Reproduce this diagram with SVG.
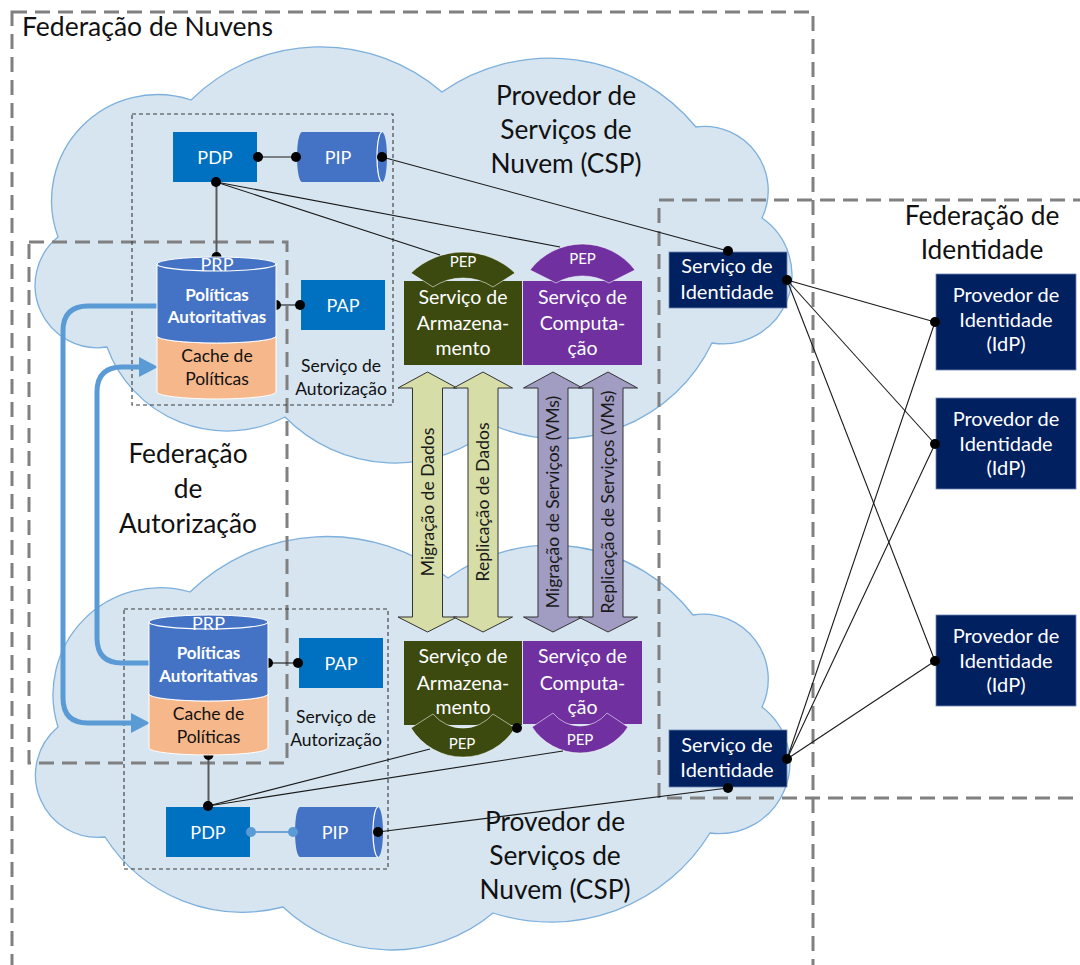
<svg xmlns="http://www.w3.org/2000/svg" width="1080" height="965" viewBox="0 0 1080 965">
  <defs>
    <style>
      text { font-family: Lato, "Open Sans", "DejaVu Sans", sans-serif; }
      .cloud { fill: #D6E5F0; stroke: #7DB0DD; stroke-width: 1.3; }
      .fed { fill: none; stroke: #808080; stroke-width: 3; stroke-dasharray: 15 8; }
      .svc { fill: none; stroke: #3a3a3a; stroke-width: 1.1; stroke-dasharray: 4 3; }
      .big { font-size: 26.3px; fill: #111; text-anchor: middle; }
      .lbl { font-size: 17.5px; fill: #111; text-anchor: middle; }
      .w { fill: #fff; text-anchor: middle; }
      .box { font-size: 19.5px; }
      .idt { font-size: 20px; }
      .acr { font-size: 18px; }
      .bold { font-size: 17px; font-weight: bold; }
      .pep { font-size: 15px; }
      .arr { font-size: 17.5px; fill: #1a1a1a; text-anchor: middle; }
      .blue { fill: #0070C0; }
      .mid { fill: #4472C4; }
      .navy { fill: #002060; stroke: #6F86B5; stroke-width: 0.8; }
      .olive { fill: #3C4A0F; }
      .purp { fill: #7030A0; }
      .rim { fill: none; stroke: #fff; stroke-width: 1.2; }
      .seam { stroke: #fff; stroke-opacity: 0.55; stroke-width: 1; }
      .green { fill: #D6DDA6; stroke: #333; stroke-width: 1; }
      .lilac { fill: #A19CC1; stroke: #333; stroke-width: 1; }
      .ln { fill: none; stroke: #1a1a1a; stroke-width: 1.1; }
      .ln2 { fill: none; stroke: #5a5a5a; stroke-width: 2; }
      .sync { fill: none; stroke: #5B9BD5; stroke-width: 5; }
    </style>
  </defs>

  <!-- cloud providers -->
  <g id="csp-top">
    <path class="cloud" d="M58,237 A106,106 0 0 1 191,100 A185,185 0 0 1 442,92 A189,189 0 0 1 696,127 A64,64 0 0 1 762,218 A69,69 0 0 1 712,343 A169,169 0 0 1 495,426 A154,154 0 0 1 285,417 A127.5,127.5 0 0 1 107,347 A62.4,62.4 0 0 1 58,237 Z"/>
    <text class="big" x="566" y="105">Provedor de</text>
    <text class="big" x="566" y="139">Serviços de</text>
    <text class="big" x="566" y="173">Nuvem (CSP)</text>
  </g>
  <g id="csp-bottom">
    <path class="cloud" d="M190,592 A197,197 0 0 1 448,578 A179,179 0 0 1 693,615 A65,65 0 0 1 762,707 A70.5,70.5 0 0 1 710,833 A187,187 0 0 1 493,913 A158,158 0 0 1 283,907 A163,163 0 0 1 105,837 A62.4,62.4 0 0 1 58,727 A107,107 0 0 1 190,592 Z"/>
    <text class="big" x="555" y="831">Provedor de</text>
    <text class="big" x="555" y="865">Serviços de</text>
    <text class="big" x="555" y="899">Nuvem (CSP)</text>
  </g>

  <!-- federations -->
  <g id="fed-nuvens">
    <rect class="fed" x="12" y="12" width="801" height="1000"/>
    <text x="22" y="36" style="font-size:26.5px;fill:#111">Federação de Nuvens</text>
  </g>
  <g id="fed-identidade">
    <rect class="fed" x="659" y="200" width="460" height="598"/>
    <text class="big" x="982" y="225">Federação de</text>
    <text class="big" x="982" y="259">Identidade</text>
  </g>
  <g id="fed-autorizacao">
    <rect class="fed" x="29" y="242" width="258" height="521"/>
    <text class="big" x="188" y="463">Federação</text>
    <text class="big" x="188" y="498">de</text>
    <text class="big" x="188" y="533">Autorização</text>
  </g>

  <!-- authorization services -->
  <g id="authz-top">
    <rect class="svc" x="132" y="114" width="261" height="291"/>
    <text class="lbl" x="341" y="372">Serviço de</text>
    <text class="lbl" x="341" y="395">Autorização</text>
  </g>
  <g id="authz-bottom">
    <rect class="svc" x="124" y="609" width="264" height="260"/>
    <text class="lbl" x="336" y="723">Serviço de</text>
    <text class="lbl" x="336" y="746">Autorização</text>
  </g>

  <!-- policy points, top provider -->
  <g id="pdp-top">
    <rect class="blue" x="173" y="132" width="84" height="50"/>
    <text class="w acr" x="215" y="163.5">PDP</text>
  </g>
  <g id="pip-top">
    <path class="mid" d="M302,132 L382,132 A5,25 0 0 1 382,182 L302,182 A5,25 0 0 1 302,132 Z"/>
    <path class="rim" d="M382,132 A5,25 0 0 0 382,182"/>
    <text class="w acr" x="338" y="163.5">PIP</text>
  </g>
  <g id="pap-top">
    <rect class="blue" x="301" y="280" width="84" height="50"/>
    <text class="w acr" x="343" y="312">PAP</text>
  </g>

  <!-- policy points, bottom provider -->
  <g id="pdp-bottom">
    <rect class="blue" x="166" y="807" width="84" height="50"/>
    <text class="w acr" x="208" y="838.5">PDP</text>
  </g>
  <g id="pip-bottom">
    <path class="mid" d="M300,807 L378,807 A5,25 0 0 1 378,857 L300,857 A5,25 0 0 1 300,807 Z"/>
    <path class="rim" d="M378,807 A5,25 0 0 0 378,857"/>
    <text class="w acr" x="335" y="838.5">PIP</text>
  </g>
  <g id="pap-bottom">
    <rect class="blue" x="299" y="638" width="84" height="50"/>
    <text class="w acr" x="341" y="670">PAP</text>
  </g>

  <!-- storage and compute services -->
  <g id="storage-top">
    <rect class="olive" x="404" y="281" width="118" height="84"/>
    <path class="olive seam" d="M411,273 A75,75 0 0 1 515,273 L493,287 A54.5,54.5 0 0 0 433,287 Z"/>
    <text class="w pep" x="463" y="267">PEP</text>
    <text class="w box" x="463" y="304">Serviço de</text>
    <text class="w box" x="463" y="330">Armazena-</text>
    <text class="w box" x="463" y="355">mento</text>
  </g>
  <g id="compute-top">
    <rect class="purp" x="523" y="281" width="119" height="84"/>
    <path class="purp seam" d="M530,270 A66,66 0 0 1 635,270 L609,283 A53.6,53.6 0 0 0 556,283 Z"/>
    <text class="w pep" x="582.5" y="264">PEP</text>
    <text class="w box" x="582.5" y="304">Serviço de</text>
    <text class="w box" x="582.5" y="330">Computa-</text>
    <text class="w box" x="582.5" y="355">ção</text>
  </g>
  <g id="storage-bottom">
    <rect class="olive" x="404" y="641" width="118" height="84"/>
    <path class="olive seam" d="M411,728 A61,61 0 0 0 515,728 L493,714 A39,39 0 0 1 433,714 Z"/>
    <text class="w box" x="463" y="663">Serviço de</text>
    <text class="w box" x="463" y="690">Armazena-</text>
    <text class="w box" x="463" y="714">mento</text>
    <text class="w pep" x="462" y="749">PEP</text>
  </g>
  <g id="compute-bottom">
    <rect class="purp" x="523" y="641" width="119" height="83"/>
    <path class="purp seam" d="M532,727 A57.3,57.3 0 0 0 628,727 L607,713 A34.5,34.5 0 0 1 553,713 Z"/>
    <text class="w box" x="582.5" y="663">Serviço de</text>
    <text class="w box" x="582.5" y="690">Computa-</text>
    <text class="w box" x="582.5" y="714">ção</text>
    <text class="w pep" x="580" y="745">PEP</text>
  </g>

  <!-- identity services and providers -->
  <g id="si-top">
    <rect class="navy" x="669" y="252" width="118" height="56"/>
    <text class="w idt" x="727" y="273">Serviço de</text>
    <text class="w idt" x="727" y="299">Identidade</text>
  </g>
  <g id="si-bottom">
    <rect class="navy" x="669" y="730" width="118" height="57"/>
    <text class="w idt" x="727" y="752">Serviço de</text>
    <text class="w idt" x="727" y="777">Identidade</text>
  </g>
  <g id="idp-1">
    <rect class="navy" x="936" y="274" width="140" height="96"/>
    <text class="w idt" x="1006" y="302">Provedor de</text>
    <text class="w idt" x="1006" y="327">Identidade</text>
    <text class="w idt" x="1006" y="351">(IdP)</text>
  </g>
  <g id="idp-2">
    <rect class="navy" x="936" y="398" width="140" height="91"/>
    <text class="w idt" x="1006" y="426">Provedor de</text>
    <text class="w idt" x="1006" y="451">Identidade</text>
    <text class="w idt" x="1006" y="475">(IdP)</text>
  </g>
  <g id="idp-3">
    <rect class="navy" x="936" y="615" width="140" height="91"/>
    <text class="w idt" x="1006" y="643">Provedor de</text>
    <text class="w idt" x="1006" y="668">Identidade</text>
    <text class="w idt" x="1006" y="692">(IdP)</text>
  </g>

  <!-- data and VM transfer between providers -->
  <g id="transfers">
    <polygon class="green" points="427.5,372 457,388 442.5,388 442.5,617 457,617 427.5,632 398,617 412.5,617 412.5,388 398,388"/>
    <polygon class="green" points="483,372 512.5,388 498,388 498,617 512.5,617 483,632 453.5,617 468,617 468,388 453.5,388"/>
    <polygon class="lilac" points="553,372 582.5,388 568,388 568,617 582.5,617 553,632 523.5,617 538,617 538,388 523.5,388"/>
    <polygon class="lilac" points="608,372 637.5,388 623,388 623,617 637.5,617 608,632 578.5,617 593,617 593,388 578.5,388"/>
    <text class="arr" transform="translate(433.5,502) rotate(-90)">Migração de Dados</text>
    <text class="arr" transform="translate(489,502) rotate(-90)">Replicação de Dados</text>
    <text class="arr" transform="translate(559,502) rotate(-90)">Migração de Serviços (VMs)</text>
    <text class="arr" transform="translate(614,502) rotate(-90)">Replicação de Serviços (VMs)</text>
  </g>

  <!-- connectors -->
  <g id="connectors">
    <path class="sync" d="M157,306 H88 Q63,306 63,331 V698 Q63,723 88,723 H133"/>
    <polygon fill="#5B9BD5" points="131,713 150,723 131,733"/>
    <path class="sync" d="M149,663 H122 Q97,663 97,638 V392 Q97,367 122,367 H141"/>
    <polygon fill="#5B9BD5" points="139,357 158,367 139,377"/>

    <line class="ln" x1="258" y1="157" x2="296" y2="157"/>
    <line class="ln" x1="382" y1="157" x2="728" y2="251"/>
    <line class="ln2" x1="216.5" y1="182" x2="216.5" y2="257"/>
    <line class="ln" x1="216" y1="182" x2="440" y2="255"/>
    <line class="ln" x1="216" y1="182" x2="560" y2="247"/>
    <line class="ln" x1="276" y1="305" x2="300" y2="305"/>
    <line class="ln" x1="787" y1="280" x2="935" y2="322"/>
    <line class="ln" x1="787" y1="280" x2="935" y2="444"/>
    <line class="ln" x1="787" y1="280" x2="935" y2="661"/>
    <line class="ln" x1="787" y1="759" x2="935" y2="322"/>
    <line class="ln" x1="787" y1="759" x2="935" y2="444"/>
    <line class="ln" x1="787" y1="759" x2="935" y2="661"/>
    <line class="ln" x1="378" y1="832" x2="728" y2="788"/>
    <line class="ln2" x1="208.5" y1="755" x2="208.5" y2="806"/>
    <line class="ln" x1="208" y1="806" x2="430" y2="749"/>
    <line class="ln" x1="208" y1="806" x2="563" y2="751"/>
    <line class="ln" x1="268" y1="663" x2="298" y2="663"/>
    <line stroke="#6FA3D6" stroke-width="2" x1="251" y1="832" x2="293" y2="832"/>

    <g fill="#000">
      <circle cx="258" cy="157" r="5"/>
      <circle cx="296" cy="157" r="5"/>
      <circle cx="382" cy="157" r="5"/>
      <circle cx="216" cy="182" r="5"/>
      <path d="M211.5,257 A5,5 0 0 1 221.5,257 Z"/>
      <circle cx="276" cy="305" r="5"/>
      <circle cx="300" cy="305" r="5"/>
      <circle cx="728" cy="251" r="5"/>
      <circle cx="787" cy="280" r="5"/>
      <circle cx="935" cy="322" r="5"/>
      <circle cx="935" cy="444" r="5"/>
      <circle cx="935" cy="661" r="5"/>
      <circle cx="787" cy="759" r="5"/>
      <circle cx="728" cy="788" r="5"/>
      <circle cx="378" cy="832" r="5"/>
      <circle cx="208" cy="806" r="5"/>
      <path d="M203.5,755 A5,5 0 0 0 213.5,755 Z"/>
      <circle cx="268" cy="663" r="5"/>
      <circle cx="298" cy="663" r="5"/>
      <circle cx="517" cy="728" r="5"/>
    </g>
    <g fill="#5B9BD5">
      <circle cx="251" cy="832" r="5"/>
      <circle cx="293" cy="832" r="5"/>
    </g>
  </g>

  <!-- policy repositories -->
  <g id="prp-top">
    <path fill="#F6B78B" stroke="#fff" stroke-width="1" d="M157,336 A59.5,7 0 0 0 276,336 L276,392 A59.5,7 0 0 1 157,392 Z"/>
    <path fill="#4472C4" stroke="#fff" stroke-width="1" d="M157,264 A59.5,7 0 0 1 276,264 L276,336 A59.5,7 0 0 1 157,336 Z"/>
    <path class="rim" d="M157,264 A59.5,7 0 0 0 276,264"/>
    <text class="w acr" x="217" y="271">PRP</text>
    <text class="w bold" x="217" y="301">Políticas</text>
    <text class="w bold" x="217" y="323">Autoritativas</text>
    <text class="lbl" x="217" y="362">Cache de</text>
    <text class="lbl" x="217" y="385">Políticas</text>
  </g>
  <g id="prp-bottom">
    <path fill="#F6B78B" stroke="#fff" stroke-width="1" d="M149,694 A59.5,7 0 0 0 268,694 L268,748 A59.5,7 0 0 1 149,748 Z"/>
    <path fill="#4472C4" stroke="#fff" stroke-width="1" d="M149,622 A59.5,7 0 0 1 268,622 L268,694 A59.5,7 0 0 1 149,694 Z"/>
    <path class="rim" d="M149,622 A59.5,7 0 0 0 268,622"/>
    <text class="w acr" x="208.5" y="630">PRP</text>
    <text class="w bold" x="208.5" y="659">Políticas</text>
    <text class="w bold" x="208.5" y="682">Autoritativas</text>
    <text class="lbl" x="208.5" y="720">Cache de</text>
    <text class="lbl" x="208.5" y="743">Políticas</text>
  </g>
</svg>
